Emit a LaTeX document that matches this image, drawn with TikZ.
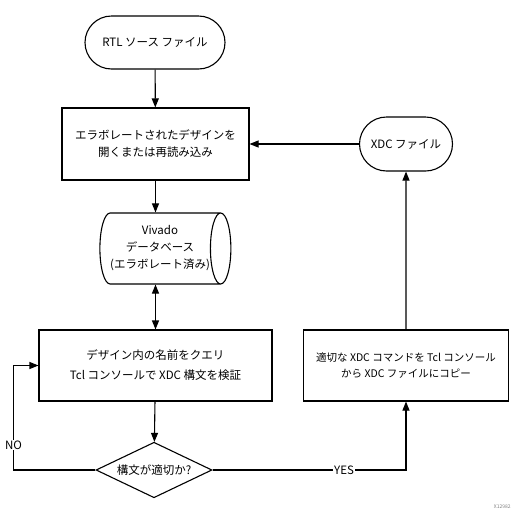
\documentclass[tikz,border=0pt]{standalone}
\usepackage{fontspec}
\setmainfont{Noto Sans CJK JP}
\usetikzlibrary{arrows.meta,shapes.geometric,shapes.misc}

\begin{document}
\begin{tikzpicture}[x=1pt,y=-1pt,line width=1.1pt,
  font=\fontsize{11.5}{17}\selectfont,
  term/.style={draw,rounded rectangle,minimum height=53pt,inner sep=0pt},
  proc/.style={draw,rectangle,align=center,inner sep=0pt},
  arr/.style={-{Triangle[length=9pt,width=7pt]}},
  lbl/.style={fill=white,inner sep=1pt}]
\useasboundingbox (0,0) rectangle (512,520);

% nodes
\node[term,minimum width=140pt] (rtl) at (155,42.5) {RTL ソース ファイル};
\node[proc,minimum width=187pt,minimum height=72pt] (open) at (155.5,144)
  {エラボレートされたデザインを\\開くまたは再読み込み};
\node[term,minimum width=93pt,minimum height=54pt] (xdc) at (406,144) {XDC ファイル};
\node[draw,cylinder,aspect=0.45,minimum height=112pt,minimum width=71pt,
  inner sep=0pt,align=center] (db) at (160,248.5)
  {Vivado\\データベース\\(エラボレート済み)};
\node[proc,minimum width=233pt,minimum height=71pt,
  font=\fontsize{11.5}{20}\selectfont] (chk) at (155.5,365.5)
  {デザイン内の名前をクエリ\\Tcl コンソールで XDC 構文を検証};
\node[proc,minimum width=205pt,minimum height=71pt,
  font=\fontsize{10.5}{16}\selectfont] (cpy) at (406,365.5)
  {適切な XDC コマンドを Tcl コンソール\\から XDC ファイルにコピー};
\node[draw,diamond,aspect=1.66,minimum width=116pt,inner sep=0pt] (dec) at (154,470)
  {構文が適切か?};
\node[anchor=west,text=gray,font=\fontsize{5}{6}\selectfont] (fig) at (490,507) {X12982};

% connectors
\draw[arr] (rtl) -- (open);
\draw[arr] (open.south) -- (open.south |- db.north);
\draw[arr] (xdc) -- (open);
\draw[{Triangle[length=9pt,width=7pt]}-{Triangle[length=9pt,width=7pt]}]
  (chk.north |- db.south) -- (chk.north);
\draw[arr] (chk) -- (dec);
\draw[arr] (dec.west) -- ++(-82,0) |- node[lbl,pos=0.12] {NO} (chk.west);
\draw[arr] (dec.east) -- node[lbl,pos=0.68] {YES} (dec.east -| cpy.south) -- (cpy.south);
\draw[arr] (cpy) -- (xdc);
\end{tikzpicture}
\end{document}
